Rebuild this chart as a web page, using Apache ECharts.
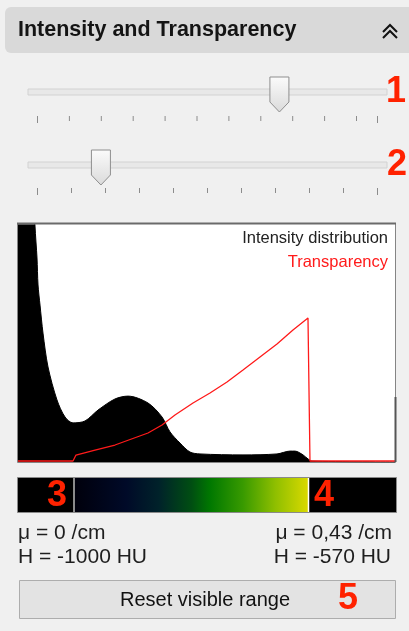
<!DOCTYPE html>
<html><head><meta charset="utf-8">
<script src="https://cdn.jsdelivr.net/npm/echarts@6/dist/echarts.min.js"></script>
<style>html,body{margin:0;padding:0;background:#f0f0f0;}#c{width:409px;height:631px;}</style>
</head><body><div id="c"></div>
<script>
// ---- data (x: 0..100 across the visible range, y: 0..100 relative height) ----
const histX = [0, 4.2, 4.51, 5.04, 5.31, 5.84, 6.63, 7.96, 10.34, 12.47, 14.59, 17.77, 21.22, 25.73, 29.18, 34.48, 38.20, 40.32, 42.97, 45.62, 48.28, 59.68, 68.70, 72.15, 73.47, 75.60, 76.92, 77.98, 100];
const histY = [160, 115, 99.6, 86.1, 74.7, 66.2, 54.4, 40.1, 26.2, 19.0, 16.5, 17.3, 21.9, 26.6, 27.8, 24.9, 19.0, 12.7, 8.0, 4.2, 3.4, 3.0, 3.4, 4.6, 4.6, 3.0, 1.3, 0.4, 0];
const transX = [0, 14.59, 15.38, 20.42, 25.73, 34.48, 38.20, 41.64, 46.42, 50.93, 55.44, 59.68, 64.19, 68.70, 72.94, 76.92, 77.45, 100];
const transY = [0.42, 0.42, 2.95, 5.06, 7.17, 12.24, 15.61, 19.83, 24.89, 29.1, 33.76, 38.8, 44.30, 49.8, 55.70, 60.76, 0.42, 0.42];
const legendNames = ['Intensity distribution', 'Transparency'];
const title = 'Intensity and Transparency';
const muLabels = ['μ = 0 /cm', 'μ = 0,43 /cm'];
const huLabels = ['H = -1000 HU', 'H = -570 HU'];
const buttonLabel = 'Reset visible range';
const markers = ['1', '2', '3', '4', '5'];
const slider1Value = 0.713, slider2Value = 0.188;
const gradientStops = [[0, '#00000c'], [0.22, '#000a28'], [0.36, '#00222a'], [0.5, '#004e12'], [0.58, '#007800'], [0.72, '#389a00'], [0.86, '#8fbf00'], [1, '#d9d900']];

const zip = (a, b) => a.map((v, i) => [v, b[i]]);
const F = '"Liberation Sans", Arial, sans-serif';
const RED = '#ff2200';

function slider(trackY, value, nTicks, spacing, extraEnd, tickY, label, labelX) {
  const els = [];
  els.push({type:'rect', shape:{x:28, y:trackY-3, width:359, height:6}, style:{fill:'#e8e8e8', stroke:'#d2d2d2', lineWidth:1}});
  const tx = [];
  for (let i = 0; i < nTicks; i++) tx.push(37 + i*spacing);
  if (extraEnd) tx.push(377);
  tx.forEach((x, i) => {
    const long = (i === 0 || i === tx.length-1);
    els.push({type:'line', shape:{x1:x+0.5, y1:tickY, x2:x+0.5, y2:tickY + (long?7:5)}, style:{stroke:'#8c8c8c', lineWidth:1}});
  });
  const cx = 37 + value*340, top = trackY - 15;
  els.push({type:'polygon', shape:{points:[[cx-9.5, top],[cx+9.5, top],[cx+9.5, top+25],[cx, top+35],[cx-9.5, top+25]]},
    style:{fill:new echarts.graphic.LinearGradient(0,0,0,1,[{offset:0,color:'#fbfbfb'},{offset:1,color:'#dadada'}]), stroke:'#8e8e8e', lineWidth:1}});
  els.push({type:'text', z:10, style:{text:label, x:labelX, y:trackY+0.5, font:'bold 36px '+F, fill:RED, align:'center', verticalAlign:'middle', textAlign:'center', textVerticalAlign:'middle'}});
  return els;
}

function txt(t, x, y, size, color, align, bold) {
  return {type:'text', z:10, style:{text:t, x:x, y:y, font:(bold?'bold ':'')+size+'px '+F, fill:color, align:align, verticalAlign:'middle', textAlign:align, textVerticalAlign:'middle'}};
}

const graphics = [];
// header
graphics.push({type:'rect', shape:{x:5, y:7, width:420, height:46, r:6}, style:{fill:'#d9d9d9'}});
graphics.push(txt(title, 18, 30, 21.5, '#141414', 'left', true));
graphics.push({type:'polyline', shape:{points:[[383,32],[390,25],[397,32]]}, style:{stroke:'#111', lineWidth:2, fill:null}});
graphics.push({type:'polyline', shape:{points:[[383,38],[390,31],[397,38]]}, style:{stroke:'#111', lineWidth:2, fill:null}});
// sliders
graphics.push(...slider(92, slider1Value, 11, 31.9, true, 116, markers[0], 396));
graphics.push(...slider(165, slider2Value, 11, 34, false, 188, markers[1], 397));
// chart frame
graphics.push({type:'rect', z:0, shape:{x:17.5, y:223.5, width:378, height:239}, style:{fill:'#fff', stroke:'#858585', lineWidth:1}});
graphics.push({type:'line', z:0, shape:{x1:17, y1:223.5, x2:396, y2:223.5}, style:{stroke:'#6a6a6a', lineWidth:2}});
graphics.push({type:'line', z:5, shape:{x1:395.5, y1:397, x2:395.5, y2:462}, style:{stroke:'#555', lineWidth:2}});
graphics.push(txt(legendNames[0], 388, 238, 16.5, '#222', 'right'));
graphics.push(txt(legendNames[1], 388, 262, 16.5, '#ff1a1a', 'right'));
// colour bar
graphics.push({type:'rect', shape:{x:17.5, y:477.5, width:379, height:35}, style:{fill:'#000', stroke:'#8a8a8a', lineWidth:1}});
graphics.push({type:'rect', shape:{x:75, y:478, width:233, height:34},
  style:{fill:new echarts.graphic.LinearGradient(0,0,1,0, gradientStops.map(s=>({offset:s[0], color:s[1]})))}});
graphics.push({type:'line', shape:{x1:74, y1:478, x2:74, y2:512}, style:{stroke:'#8a8a8a', lineWidth:2}});
graphics.push({type:'line', shape:{x1:308.5, y1:478, x2:308.5, y2:512}, style:{stroke:'#fff', lineWidth:1.5}});
graphics.push(txt(markers[2], 57, 496, 36, RED, 'center', true));
graphics.push(txt(markers[3], 324, 496, 36, RED, 'center', true));
// labels
graphics.push(txt(muLabels[0], 18, 533, 21, '#1e1e1e', 'left'));
graphics.push(txt(muLabels[1], 392, 533, 21, '#1e1e1e', 'right'));
graphics.push(txt(huLabels[0], 18, 557, 21, '#1e1e1e', 'left'));
graphics.push(txt(huLabels[1], 391, 557, 21, '#1e1e1e', 'right'));
// button
graphics.push({type:'rect', shape:{x:19.5, y:580.5, width:376, height:38}, style:{fill:'#e3e3e3', stroke:'#adadad', lineWidth:1}});
graphics.push(txt(buttonLabel, 205, 600, 20, '#111', 'center'));
graphics.push(txt(markers[4], 348, 599, 36, RED, 'center', true));

const chart = echarts.init(document.getElementById('c'), null, {renderer:'canvas'});
chart.setOption({
  animation:false,
  backgroundColor:'#f0f0f0',
  grid:{left:18, top:225, width:377, height:237, show:false},
  xAxis:{type:'value', min:0, max:100, show:false},
  yAxis:{type:'value', min:0, max:100, show:false},
  graphic:{elements:graphics},
  series:[
    {name:legendNames[0], type:'line', data:zip(histX, histY), showSymbol:false, symbol:'none', smooth:0.3, clip:true, z:3, sampling:null,
     lineStyle:{color:'#000', width:1}, areaStyle:{color:'#000', opacity:1}},
    {name:legendNames[1], type:'line', data:zip(transX, transY), showSymbol:false, symbol:'none', smooth:false, clip:true, z:4,
     lineStyle:{color:'#ff1a1a', width:1.3}}
  ]
});
</script></body></html>
